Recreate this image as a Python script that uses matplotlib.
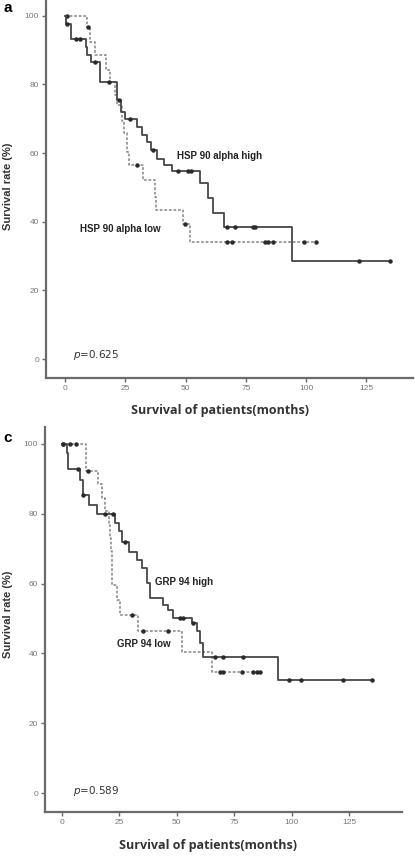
import numpy as np
import matplotlib
matplotlib.use('Agg')
import matplotlib.pyplot as plt

# ---- panel a : HSP 90 alpha ----
a_hi_t = [0, 0.3, 2.5, 8.5, 9.3, 10.6, 14.5, 21.4, 23.0, 24.9, 29.7, 31.8, 33.9, 35.5,
          38.0, 41.0, 44.2, 56.0, 59.4, 61.5, 65.9, 94.0]
a_hi_s = [100, 97.7, 93.2, 90.9, 88.6, 86.4, 80.8, 75.4, 72.0, 69.8, 67.6, 65.2, 63.3, 60.9,
          58.2, 56.5, 54.9, 51.4, 46.8, 42.7, 38.4, 28.6]
a_hi_end = 134.7
a_hi_cens = [0.7, 4.5, 6.2, 12.4, 18.3, 22.4, 27.0, 36.4, 46.9, 50.9, 52.2, 67.0, 70.5,
             78.1, 78.8, 122.0, 134.7]

a_lo_t = [0, 9.0, 10.4, 12.4, 17.0, 18.7, 20.7, 21.5, 23.5, 24.5, 25.5, 26.7, 32.5,
          37.3, 37.9, 49.0, 51.8]
a_lo_s = [100, 96.8, 92.4, 88.5, 84.2, 80.6, 77.0, 74.0, 69.5, 65.8, 60.4, 56.5, 52.1,
          47.3, 43.4, 39.3, 34.2]
a_lo_end = 104.1
a_lo_cens = [0.7, 9.5, 29.7, 49.8, 67.0, 69.1, 82.9, 84.3, 86.1, 99.1, 104.1]

# ---- panel c : GRP 94 ----
c_hi_t = [0, 2.0, 2.8, 7.8, 9.0, 11.9, 15.1, 23.1, 25.0, 26.0, 29.3, 32.5, 34.7, 36.9,
          38.3, 44.1, 46.3, 48.5, 56.5, 58.7, 60.1, 61.5, 94.2]
c_hi_s = [100, 97.5, 92.7, 89.7, 85.4, 82.5, 79.9, 77.3, 75.0, 72.0, 69.1, 66.8, 64.4, 60.1,
          55.8, 53.9, 52.4, 50.2, 48.6, 46.5, 42.9, 38.9, 32.4]
c_hi_end = 134.9
c_hi_cens = [0.6, 7.1, 9.3, 18.7, 22.3, 27.4, 51.4, 52.5, 57.0, 66.6, 70.0, 79.0, 99.0,
             104.1, 122.2, 134.9]

c_lo_t = [0, 10.5, 15.5, 17.3, 18.7, 20.6, 21.0, 21.3, 21.6, 23.8, 25.3, 33.2, 52.1, 65.2]
c_lo_s = [100, 92.3, 88.5, 84.6, 80.8, 76.9, 73.1, 69.2, 59.6, 55.3, 51.0, 46.5, 40.5, 34.7]
c_lo_end = 86.5
c_lo_cens = [0.6, 3.5, 6.1, 11.4, 30.3, 35.4, 46.3, 68.8, 70.2, 78.3, 83.3, 84.8, 86.2]

x_ticks = [0, 25, 50, 75, 100, 125]
y_ticks = [0, 20, 40, 60, 80, 100]

GREY = '#6a6a6a'


def level(t, s, x):
    i = np.searchsorted(t, x, side='right') - 1
    return np.array(s)[i]


def km(ax, t, s, end, cens, dashed):
    t = np.array(t, dtype=float)
    s = np.array(s, dtype=float)
    xs = np.append(t, end)
    ys = np.append(s, s[-1])
    if dashed:
        ax.step(xs, ys, where='post', color='#858585', lw=1.1, ls=(0, (1.8, 1.2)))
    else:
        ax.step(xs, ys, where='post', color='#474747', lw=1.3)
    cx = np.array(cens)
    ax.plot(cx, level(t, s, cx), 'o', color='#2a2a2a', ms=2.2, ls='none')


def style(ax, xlim, ylim):
    ax.set_xlim(*xlim)
    ax.set_ylim(*ylim)
    for sp in ['top', 'right']:
        ax.spines[sp].set_visible(False)
    for sp in ['left', 'bottom']:
        ax.spines[sp].set_color(GREY)
        ax.spines[sp].set_linewidth(1.6)
    ax.set_xticks(x_ticks)
    ax.set_yticks(y_ticks)
    ax.tick_params(direction='out', length=3, width=1, color=GREY, labelsize=6,
                   labelcolor='#777777', pad=2)
    for lb in ax.get_xticklabels() + ax.get_yticklabels():
        lb.set_family('Liberation Sans')


fig = plt.figure(figsize=(4.15, 8.56), dpi=100)

ax_a = fig.add_axes([46 / 415, 1 - 378 / 856, (413 - 46) / 415, 378 / 856])
km(ax_a, a_lo_t, a_lo_s, a_lo_end, a_lo_cens, True)
km(ax_a, a_hi_t, a_hi_s, a_hi_end, a_hi_cens, False)
style(ax_a, (-7.9, 144.3), (-5.5, 104.6))
ax_a.text(46.4, 59.1, 'HSP 90 alpha high', fontsize=7, fontweight='bold',
          family='Liberation Sans', va='center', color='#222222')
ax_a.text(6.2, 37.9, 'HSP 90 alpha low', fontsize=7, fontweight='bold',
          family='Liberation Sans', va='center', color='#222222')
ax_a.text(3.3, 1.2, '$p$=0.625', fontsize=7.5, va='center', color='#333333')

ax_c = fig.add_axes([45 / 415, 1 - 812 / 856, (402 - 45) / 415, (812 - 427) / 856])
km(ax_c, c_lo_t, c_lo_s, c_lo_end, c_lo_cens, True)
km(ax_c, c_hi_t, c_hi_s, c_hi_end, c_hi_cens, False)
style(ax_c, (-7.4, 148.0), (-5.4, 104.8))
ax_c.text(40.5, 60.5, 'GRP 94 high', fontsize=7, fontweight='bold',
          family='Liberation Sans', va='center', color='#222222')
ax_c.text(24.0, 42.7, 'GRP 94 low', fontsize=7, fontweight='bold',
          family='Liberation Sans', va='center', color='#222222')
ax_c.text(4.8, 0.6, '$p$=0.589', fontsize=7.5, va='center', color='#333333')

# axis titles and panel letters
for yc, xc, yl in [(1 - 410 / 856, 220 / 415, 1 - 186 / 856),
                   (1 - 846 / 856, 208 / 415, 1 - 614 / 856)]:
    fig.text(xc, yc, 'Survival of patients(months)', ha='center', va='center',
             fontsize=9, fontweight='bold', family='Open Sans', color='#333333')
    fig.text(8 / 415, yl, 'Survival rate (%)', rotation=90, ha='center', va='center',
             fontsize=8, fontweight='bold', family='Liberation Sans', color='#333333')

fig.text(3 / 415, 1 - 8 / 856, 'a', fontsize=11, fontweight='bold',
         family='Liberation Sans', va='center')
fig.text(3 / 415, 1 - 438 / 856, 'c', fontsize=11, fontweight='bold',
         family='Liberation Sans', va='center')

fig.savefig('out.png', dpi=100)
